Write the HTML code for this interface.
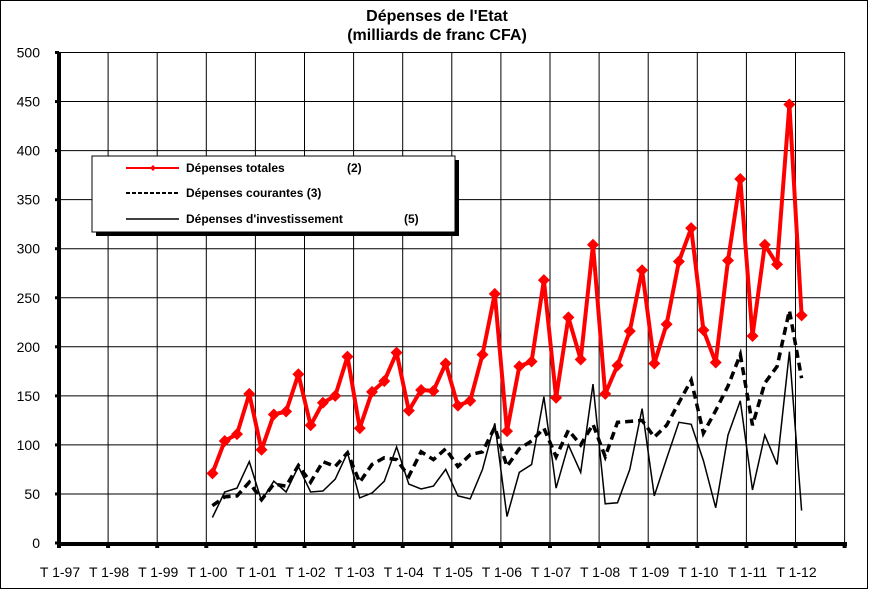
<!DOCTYPE html>
<html><head><meta charset="utf-8"><style>
html,body{margin:0;padding:0;background:#fff;}
svg{display:block;font-family:"Liberation Sans",Arial,sans-serif;}
</style></head><body>
<svg id="s" width="873" height="590" xmlns="http://www.w3.org/2000/svg">
<rect x="0.5" y="0.5" width="867" height="588" fill="#fff" stroke="#000" stroke-width="1"/>
<text x="437" y="21" text-anchor="middle" font-size="16" font-weight="bold">Dépenses de l'Etat</text>
<text x="437" y="40" text-anchor="middle" font-size="16" font-weight="bold">(milliards de franc CFA)</text>
<g id="grid"></g>
<g id="series"></g>
<rect x="96" y="160" width="363" height="76" fill="#000"/>
<rect x="92" y="156" width="363" height="76" fill="#fff" stroke="#000" stroke-width="1"/>
<line x1="126" y1="168" x2="179" y2="168" stroke="#f00" stroke-width="2"/>
<path d="M153 165 L156 168 L153 171 L150 168 Z" fill="#f00"/>
<line x1="126" y1="193" x2="179" y2="193" stroke="#000" stroke-width="2" stroke-dasharray="4,2"/>
<line x1="126" y1="219" x2="179" y2="219" stroke="#000" stroke-width="1.5"/>
<g font-size="12" font-weight="bold">
<text x="186" y="172">Dépenses totales</text><text x="347" y="172">(2)</text>
<text x="186" y="197">Dépenses courantes (3)</text>
<text x="186" y="223">Dépenses d'investissement</text><text x="404" y="223">(5)</text>
</g>
</svg>
<script>
var NS="http://www.w3.org/2000/svg";
function el(p,t,a){var e=document.createElementNS(NS,t);for(var k in a)e.setAttribute(k,a[k]);p.appendChild(e);return e;}
var g=document.getElementById('grid'),s=document.getElementById('series');
var X0=59,DX=49.1,Y0=543,K=0.981;
function Y(v){return Y0-v*K;}
for(var v=50;v<=500;v+=50){el(g,'line',{x1:X0,x2:845,y1:Y(v),y2:Y(v),stroke:'#000','stroke-width':1});}
for(var v=0;v<=500;v+=50){var t=el(g,'text',{x:40,y:Y(v)+5,'text-anchor':'end','font-size':14});t.textContent=v;
 el(g,'line',{x1:X0-4,x2:X0,y1:Y(v),y2:Y(v),stroke:'#000','stroke-width':3});}
var yrs=['97','98','99','00','01','02','03','04','05','06','07','08','09','10','11','12'];
for(var i=0;i<=16;i++){var x=X0+i*DX;el(g,'line',{x1:x,x2:x,y1:Y(500),y2:Y0,stroke:'#000','stroke-width':1});
 el(g,'rect',{x:x-2,y:Y0-1,width:4,height:6,fill:'#000'});
 if(i<16){var t=el(g,'text',{x:x+1,y:577,'text-anchor':'middle','font-size':14});t.textContent='T 1-'+yrs[i];}}
el(g,'line',{x1:X0,x2:X0,y1:Y(500),y2:Y0+2,stroke:'#000','stroke-width':4});
el(g,'line',{x1:X0-2,x2:847,y1:Y0+1,y2:Y0+1,stroke:'#000','stroke-width':4});
var red=[71,104,111,152,95,131,134,172,120,143,150,190,117,154,165,194,135,156,155,183,140,145,192,254,114,180,185,268,148,230,187,304,152,181,216,278,183,223,287,321,217,184,288,371,211,304,284,447,232];
var dash=[38,47,48,62,44,60,58,79,62,83,78,92,62,80,87,85,68,93,85,96,78,90,93,118,78,96,104,117,88,115,100,121,88,123,124,125,108,120,143,166,112,135,160,192,120,163,180,237,168];
var sol=[26,52,56,83,43,63,52,78,52,53,65,92,46,51,63,98,60,55,58,75,48,45,75,122,27,72,80,149,56,100,72,162,40,41,75,137,48,86,123,121,84,36,110,145,54,110,80,195,33];
function pts(a){return a.map(function(v,j){return (X0+DX/4*(12+j+0.5)).toFixed(1)+','+Y(v).toFixed(1);}).join(' ');}
el(s,'polyline',{points:pts(sol),fill:'none',stroke:'#000','stroke-width':1.5});
el(s,'polyline',{points:pts(dash),fill:'none',stroke:'#000','stroke-width':3.5,'stroke-dasharray':'8,5'});
el(s,'polyline',{points:pts(red),fill:'none',stroke:'#f00','stroke-width':4,'stroke-linejoin':'round'});
red.forEach(function(v,j){var x=X0+DX/4*(12+j+0.5),y=Y(v);el(s,'path',{d:'M'+x+' '+(y-6)+' L'+(x+6)+' '+y+' L'+x+' '+(y+6)+' L'+(x-6)+' '+y+' Z',fill:'#f00'});});
</script>
</body></html>
